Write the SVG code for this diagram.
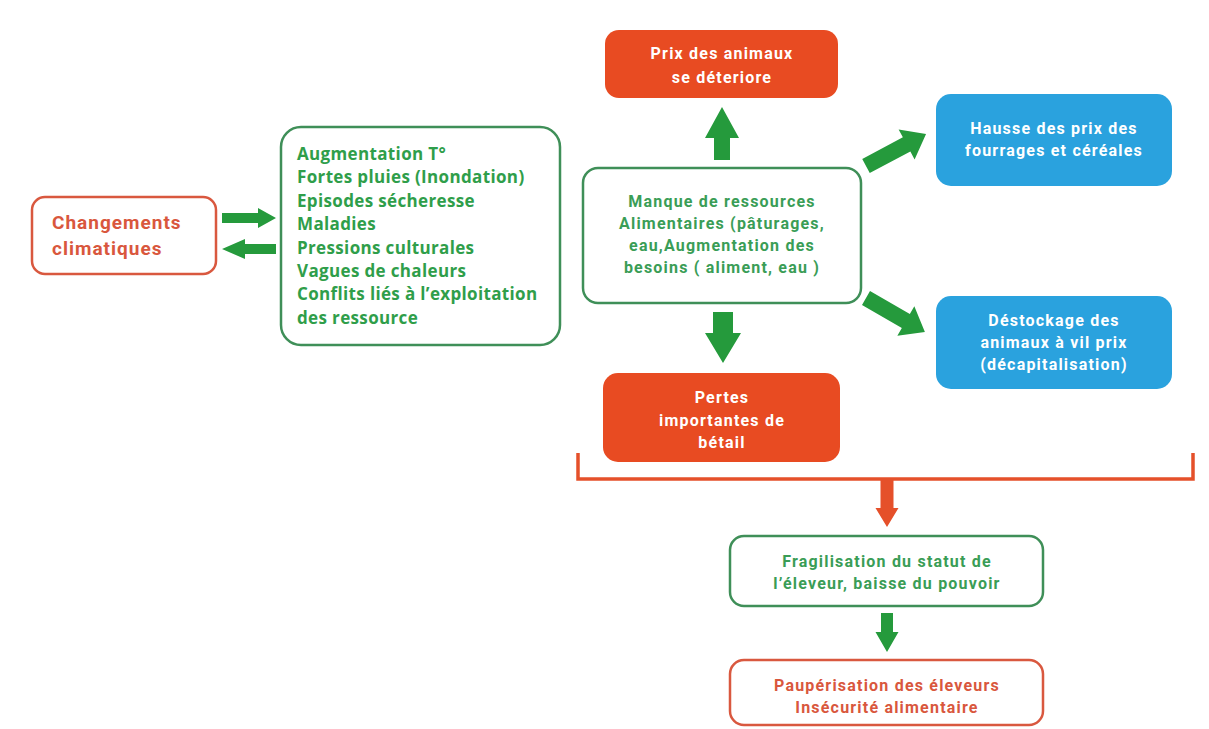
<svg xmlns="http://www.w3.org/2000/svg" width="1209" height="729" viewBox="0 0 1209 729">
  <style>
    .bg { fill: #ffffff; }
    .outline-red { fill: #ffffff; stroke: #d9583f; stroke-width: 2.5; }
    .outline-green { fill: #ffffff; stroke: #3f8f58; stroke-width: 2.5; }
    .solid-red { fill: #e84b22; }
    .solid-blue { fill: #2aa2de; }
    .arrow-green { fill: #259a3c; }
    .arrow-red { fill: #e5502a; }
    .bracket { fill: none; stroke: #e5502a; stroke-width: 3.5; }
    text { font-family: Roboto, "Liberation Sans", sans-serif; font-weight: 700; }
    .t-white { fill: #ffffff; font-size: 16px; letter-spacing: 1.2px; text-anchor: middle; }
    .t-green { fill: #3a9d56; font-size: 16px; letter-spacing: 1.2px; text-anchor: middle; }
    .t-red { fill: #d9573d; font-size: 16px; letter-spacing: 1.2px; text-anchor: middle; }
    .t-list { fill: #2f9e4a; font-family: "Open Sans", "Liberation Sans", sans-serif; font-size: 17px; letter-spacing: 0.35px; }
    .t-title { fill: #d9573d; font-size: 19px; letter-spacing: 1px; }
  </style>

  <rect class="bg" x="0" y="0" width="1209" height="729"/>

  <!-- connectors -->
  <g id="connectors">
    <!-- between climate change and its manifestations -->
    <polygon class="arrow-green" points="222,213 258,213 258,208 276,218 258,228 258,223 222,223"/>
    <polygon class="arrow-green" points="276,244 245,244 245,239 222,249 245,259 245,254 276,254"/>
    <!-- up to animal prices -->
    <polygon class="arrow-green" points="714,160 714,138 705,138 722,107 739,138 730,138 730,160"/>
    <!-- down to livestock losses -->
    <polygon class="arrow-green" points="713,312 733,312 733,333 741,333 723,363 705,333 713,333"/>
    <!-- diagonal to fodder prices -->
    <polygon class="arrow-green" transform="translate(866,166) rotate(-28)" points="0,-8 46,-8 46,-17 68,0 46,17 46,8 0,8"/>
    <!-- diagonal to destocking -->
    <polygon class="arrow-green" transform="translate(866,298) rotate(30)" points="0,-8 46,-8 46,-17 68,0 46,17 46,8 0,8"/>
    <!-- bracket gathering the consequences -->
    <path class="bracket" d="M578,453 V479 H1193 V453"/>
    <polygon class="arrow-red" points="880.5,479 893.5,479 893.5,508 898.5,508 887,527 875.5,508 880.5,508"/>
    <!-- down to impoverishment -->
    <polygon class="arrow-green" points="881,613 893,613 893,632 898.5,632 887,652 875.5,632 881,632"/>
  </g>

  <g id="changements">
    <rect class="outline-red" x="32" y="197" width="184" height="77" rx="13"/>
    <text class="t-title" x="52" y="229">Changements</text>
    <text class="t-title" x="52" y="255">climatiques</text>
  </g>

  <g id="manifestations">
    <rect class="outline-green" x="281" y="127" width="279" height="218" rx="20"/>
    <text class="t-list" x="297" y="160">Augmentation T°</text>
    <text class="t-list" x="297" y="183">Fortes pluies (Inondation)</text>
    <text class="t-list" x="297" y="207">Episodes sécheresse</text>
    <text class="t-list" x="297" y="230">Maladies</text>
    <text class="t-list" x="297" y="254">Pressions culturales</text>
    <text class="t-list" x="297" y="277">Vagues de chaleurs</text>
    <text class="t-list" x="297" y="300">Conflits liés à l’exploitation</text>
    <text class="t-list" x="297" y="324">des ressource</text>
  </g>

  <g id="prix-animaux">
    <rect class="solid-red" x="605" y="30" width="233" height="68" rx="14"/>
    <text class="t-white" x="722" y="59">Prix des animaux</text>
    <text class="t-white" x="722" y="83">se déteriore</text>
  </g>

  <g id="manque-ressources">
    <rect class="outline-green" x="583" y="168" width="278" height="135" rx="15"/>
    <text class="t-green" x="722" y="207">Manque de ressources</text>
    <text class="t-green" x="722" y="229">Alimentaires (pâturages,</text>
    <text class="t-green" x="722" y="251">eau,Augmentation des</text>
    <text class="t-green" x="722" y="273">besoins ( aliment, eau )</text>
  </g>

  <g id="pertes-betail">
    <rect class="solid-red" x="603" y="373" width="237" height="89" rx="15"/>
    <text class="t-white" x="722" y="403">Pertes</text>
    <text class="t-white" x="722" y="426">importantes de</text>
    <text class="t-white" x="722" y="448">bétail</text>
  </g>

  <g id="hausse-prix">
    <rect class="solid-blue" x="936" y="94" width="236" height="92" rx="15"/>
    <text class="t-white" x="1054" y="134">Hausse des prix des</text>
    <text class="t-white" x="1054" y="156">fourrages et céréales</text>
  </g>

  <g id="destockage">
    <rect class="solid-blue" x="936" y="296" width="236" height="93" rx="15"/>
    <text class="t-white" x="1054" y="326">Déstockage des</text>
    <text class="t-white" x="1054" y="348">animaux à vil prix</text>
    <text class="t-white" x="1054" y="370">(décapitalisation)</text>
  </g>

  <g id="fragilisation">
    <rect class="outline-green" x="730" y="536" width="313" height="70" rx="14"/>
    <text class="t-green" x="887" y="567">Fragilisation du statut de</text>
    <text class="t-green" x="887" y="589">l’éleveur, baisse du pouvoir</text>
  </g>

  <g id="pauperisation">
    <rect class="outline-red" x="730" y="660" width="313" height="65" rx="14"/>
    <text class="t-red" x="887" y="691">Paupérisation des éleveurs</text>
    <text class="t-red" x="887" y="713">Insécurité alimentaire</text>
  </g>
</svg>
